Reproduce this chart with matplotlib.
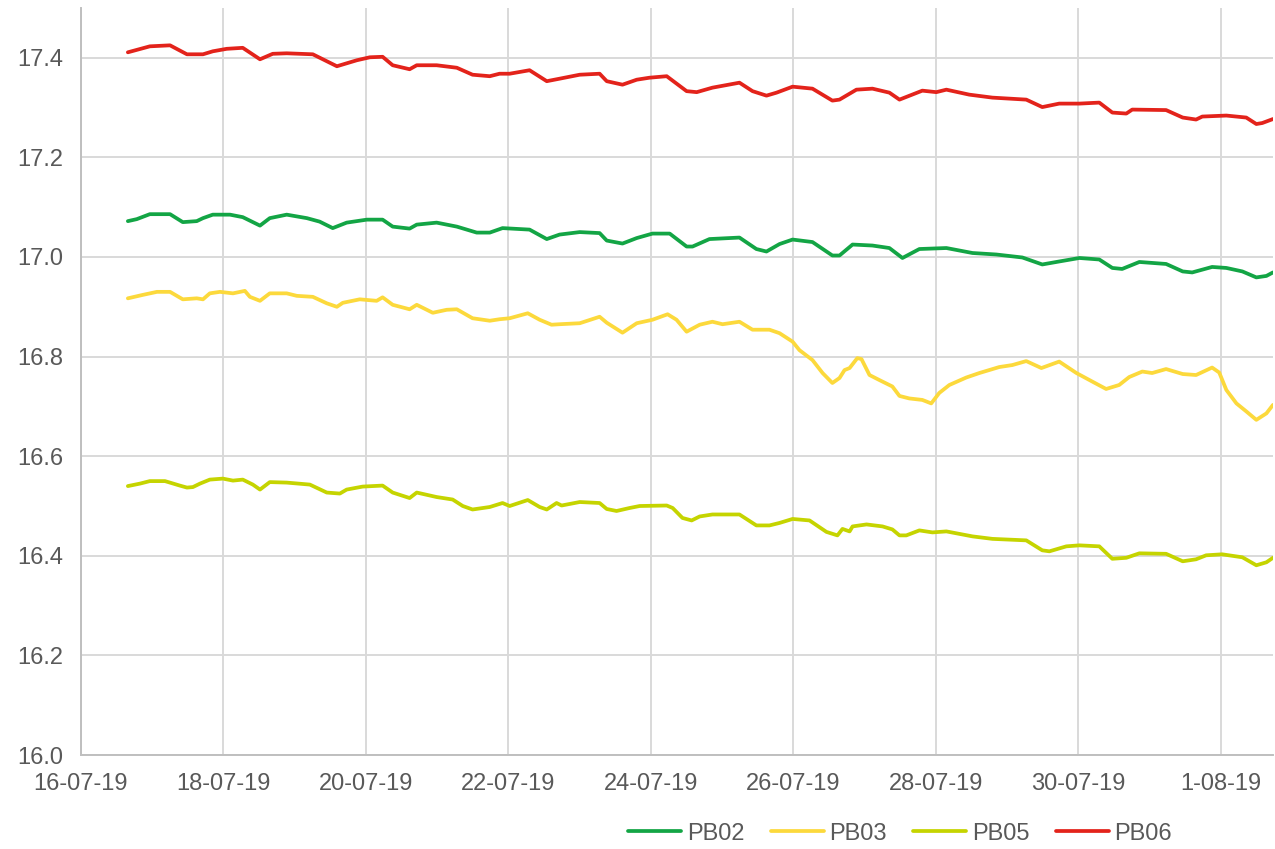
import pandas as pd
import matplotlib
matplotlib.use("Agg")
import matplotlib.pyplot as plt
from matplotlib.ticker import FuncFormatter
import matplotlib.dates as mdates

# logger readings, hours after 16-07-2019 00:00
START = pd.Timestamp("2019-07-16")

pb06_hours = [15.8, 23.2, 30.0, 35.7, 41.1, 44.4, 49.1, 54.5,
              60.3, 64.6, 69.3, 78.1, 86.2, 92.9, 97.3, 101.6,
              105.0, 110.7, 113.1, 119.8, 126.6, 131.9, 137.7, 141.0,
              144.4, 151.1, 156.9, 161.2, 168.0, 174.7, 177.1, 182.4,
              187.2, 191.5, 197.3, 204.0, 207.4, 212.7, 221.8, 226.2,
              230.9, 234.3, 239.7, 246.4, 253.1, 255.5, 261.2, 266.6,
              272.3, 275.7, 283.4, 288.1, 291.5, 299.2, 307.0, 318.4,
              323.8, 329.5, 336.3, 343.0, 347.4, 352.1, 354.1, 365.5,
              371.1, 375.6, 377.7, 385.8, 392.5, 395.9, 397.9, 401.5]
pb06 = [17.411, 17.423, 17.425, 17.407, 17.407, 17.413, 17.418, 17.420,
        17.397, 17.408, 17.409, 17.407, 17.383, 17.395, 17.401, 17.402,
        17.385, 17.377, 17.385, 17.385, 17.380, 17.366, 17.363, 17.368,
        17.368, 17.375, 17.353, 17.358, 17.366, 17.368, 17.353, 17.346,
        17.356, 17.360, 17.363, 17.333, 17.331, 17.340, 17.350, 17.333,
        17.324, 17.330, 17.342, 17.338, 17.314, 17.316, 17.336, 17.338,
        17.330, 17.316, 17.334, 17.331, 17.336, 17.326, 17.320, 17.316,
        17.301, 17.308, 17.308, 17.310, 17.290, 17.288, 17.296, 17.295,
        17.280, 17.276, 17.282, 17.284, 17.280, 17.267, 17.269, 17.277]

pb02_hours = [15.8, 18.8, 23.2, 30.0, 34.3, 39.0, 41.1, 44.4,
              50.2, 54.5, 60.3, 63.6, 69.3, 76.1, 80.4, 84.8,
              89.5, 96.3, 101.6, 105.0, 110.7, 113.1, 119.8, 126.6,
              133.3, 137.7, 142.0, 151.1, 156.9, 161.2, 168.0, 174.7,
              177.1, 182.4, 187.2, 192.5, 198.3, 204.0, 206.0, 211.7,
              221.8, 227.5, 230.9, 235.3, 239.7, 246.4, 253.1, 255.5,
              259.9, 266.6, 272.3, 276.7, 282.4, 291.5, 300.3, 308.3,
              317.1, 323.8, 329.5, 336.3, 343.0, 347.4, 350.7, 356.5,
              365.5, 371.1, 374.3, 381.0, 385.8, 391.2, 395.9, 399.3,
              401.5]
pb02 = [17.072, 17.076, 17.086, 17.086, 17.070, 17.072, 17.078, 17.085,
        17.085, 17.080, 17.063, 17.078, 17.085, 17.078, 17.071, 17.058,
        17.069, 17.075, 17.075, 17.061, 17.057, 17.065, 17.069, 17.061,
        17.049, 17.049, 17.058, 17.055, 17.036, 17.045, 17.050, 17.048,
        17.033, 17.027, 17.038, 17.047, 17.047, 17.021, 17.021, 17.036,
        17.039, 17.016, 17.011, 17.026, 17.035, 17.030, 17.003, 17.003,
        17.025, 17.023, 17.018, 16.998, 17.016, 17.018, 17.008, 17.005,
        16.999, 16.985, 16.991, 16.998, 16.995, 16.978, 16.976, 16.990,
        16.986, 16.971, 16.969, 16.980, 16.978, 16.971, 16.959, 16.962,
        16.969]

pb03_hours = [15.8, 20.9, 25.6, 30.0, 34.3, 39.0, 41.1, 43.4,
              46.8, 51.2, 55.2, 56.9, 60.3, 63.6, 69.3, 72.7,
              78.1, 82.8, 86.2, 88.2, 93.9, 99.6, 101.6, 105.0,
              110.7, 113.1, 118.5, 123.2, 126.6, 131.9, 137.7, 141.0,
              144.4, 150.5, 154.5, 158.5, 161.2, 168.0, 174.7, 177.1,
              182.4, 187.2, 192.5, 197.6, 200.6, 204.0, 208.4, 212.7,
              216.1, 221.8, 226.2, 231.9, 235.3, 239.7, 242.0, 246.4,
              249.8, 253.1, 255.5, 257.2, 258.9, 261.5, 262.9, 265.6,
              268.9, 273.3, 275.7, 279.0, 283.4, 286.4, 289.1, 292.5,
              298.2, 302.6, 309.3, 313.7, 318.4, 323.5, 329.5, 335.3,
              340.6, 345.3, 349.7, 353.1, 357.5, 360.8, 365.5, 371.1,
              375.6, 381.0, 383.4, 385.8, 389.2, 392.5, 395.9, 399.3,
              401.5]
pb03 = [16.917, 16.924, 16.930, 16.930, 16.915, 16.917, 16.915, 16.927,
        16.930, 16.927, 16.932, 16.920, 16.912, 16.927, 16.927, 16.922,
        16.920, 16.907, 16.900, 16.908, 16.915, 16.912, 16.919, 16.904,
        16.895, 16.904, 16.888, 16.894, 16.895, 16.877, 16.872, 16.875,
        16.877, 16.887, 16.874, 16.864, 16.865, 16.867, 16.880, 16.868,
        16.848, 16.867, 16.874, 16.885, 16.874, 16.850, 16.864, 16.870,
        16.865, 16.870, 16.854, 16.854, 16.847, 16.830, 16.813, 16.793,
        16.767, 16.747, 16.757, 16.773, 16.777, 16.797, 16.795, 16.763,
        16.753, 16.740, 16.721, 16.716, 16.713, 16.706, 16.727, 16.743,
        16.758, 16.767, 16.779, 16.783, 16.791, 16.777, 16.790, 16.767,
        16.750, 16.735, 16.743, 16.759, 16.770, 16.767, 16.775, 16.765,
        16.763, 16.778, 16.768, 16.733, 16.706, 16.690, 16.673, 16.686,
        16.703]

pb05_hours = [15.8, 19.9, 23.2, 28.3, 33.3, 35.7, 37.7, 40.1,
              43.4, 47.8, 51.2, 54.5, 57.9, 60.3, 63.6, 69.3,
              77.1, 82.8, 87.2, 89.5, 94.9, 101.6, 105.0, 110.7,
              113.1, 119.8, 125.2, 128.6, 131.9, 137.7, 142.0, 144.4,
              150.5, 154.5, 156.9, 160.2, 161.9, 168.0, 174.7, 177.1,
              180.4, 184.8, 188.2, 197.3, 199.3, 202.6, 205.7, 208.4,
              212.7, 221.8, 227.5, 231.9, 235.3, 239.7, 245.4, 251.1,
              254.8, 256.5, 258.9, 259.9, 264.6, 270.0, 273.3, 275.7,
              278.0, 282.4, 286.8, 291.5, 300.3, 307.0, 318.4, 323.8,
              326.2, 331.9, 336.3, 343.0, 347.4, 352.1, 356.5, 365.5,
              371.1, 375.6, 379.0, 384.4, 391.2, 395.9, 399.3, 401.5]
pb05 = [16.540, 16.545, 16.550, 16.550, 16.541, 16.537, 16.538, 16.545,
        16.553, 16.555, 16.551, 16.553, 16.543, 16.533, 16.548, 16.547,
        16.543, 16.527, 16.525, 16.533, 16.539, 16.541, 16.527, 16.516,
        16.527, 16.518, 16.513, 16.500, 16.493, 16.498, 16.506, 16.500,
        16.512, 16.498, 16.493, 16.506, 16.501, 16.508, 16.506, 16.494,
        16.490, 16.496, 16.500, 16.501, 16.496, 16.476, 16.471, 16.479,
        16.483, 16.483, 16.461, 16.461, 16.466, 16.474, 16.471, 16.448,
        16.441, 16.454, 16.449, 16.459, 16.463, 16.459, 16.453, 16.441,
        16.441, 16.451, 16.447, 16.449, 16.439, 16.434, 16.431, 16.411,
        16.409, 16.419, 16.421, 16.419, 16.394, 16.396, 16.405, 16.404,
        16.389, 16.393, 16.401, 16.403, 16.397, 16.381, 16.387, 16.396]

series = [("PB02", pb02_hours, pb02, "#13A545"),
          ("PB03", pb03_hours, pb03, "#FCD93C"),
          ("PB05", pb05_hours, pb05, "#C5D400"),
          ("PB06", pb06_hours, pb06, "#E3231B")]

plt.rcParams["font.family"] = ["Liberation Sans", "DejaVu Sans"]

fig = plt.figure(figsize=(12.75, 8.49), dpi=100)
ax = fig.add_axes([0.0635, 0.1107, 0.9349, 0.8799])

for name, hrs, vals, col in series:
    t = START + pd.to_timedelta(hrs, unit="h")
    ax.plot(t, vals, color=col, linewidth=2.7, label=name, solid_capstyle="round")

# axes
ax.set_xlim(START, START + pd.Timedelta(hours=401.5))
ax.set_ylim(16.0, 17.5)
ax.set_yticks([16.0, 16.2, 16.4, 16.6, 16.8, 17.0, 17.2, 17.4])
ax.yaxis.set_major_formatter(FuncFormatter(lambda v, p: "%.1f" % v))
ax.set_xticks(pd.date_range("2019-07-16", periods=9, freq="2D"))
ax.xaxis.set_major_formatter(FuncFormatter(
    lambda v, p: "%d-%02d-%02d" % (mdates.num2date(v).day, mdates.num2date(v).month, mdates.num2date(v).year % 100)))

ax.grid(True, color="#D9D9D9", linewidth=1.4)
ax.set_axisbelow(True)
for s in ["top", "right"]:
    ax.spines[s].set_visible(False)
for s in ["left", "bottom"]:
    ax.spines[s].set_color("#BFBFBF")
    ax.spines[s].set_linewidth(1.4)
ax.tick_params(length=0, labelsize=17, labelcolor="#595959")
ax.tick_params(axis="x", pad=13)
ax.tick_params(axis="y", pad=13)

fig.legend(loc="center", bbox_to_anchor=(0.706, 0.018), ncol=4, frameon=False,
           fontsize=17, labelcolor="#595959", handlelength=2.25, handletextpad=0.25,
           columnspacing=1.1)

fig.savefig("out.png", dpi=100)
